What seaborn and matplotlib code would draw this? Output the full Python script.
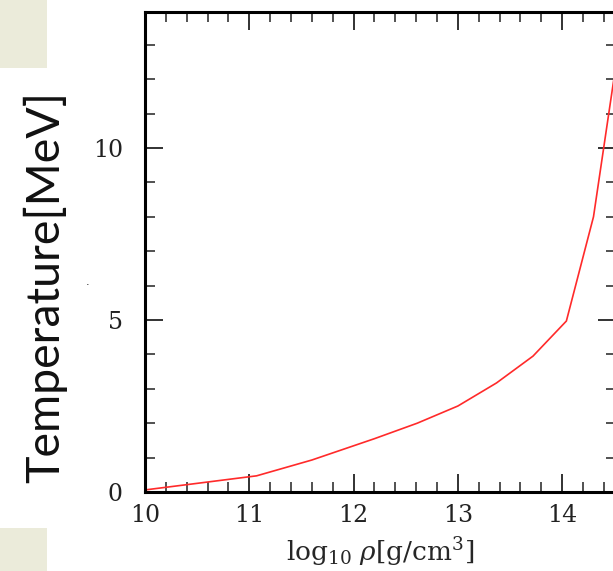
import numpy as np
import pandas as pd
import matplotlib
matplotlib.use("Agg")
import matplotlib.pyplot as plt
from matplotlib.ticker import MultipleLocator
from matplotlib.patches import Rectangle
import seaborn as sns

# data
log_rho = [10.0, 11.07, 11.6, 12.2, 12.61, 13.0, 13.37, 13.72, 14.04, 14.3, 14.5]
temperature = [0.06, 0.47, 0.93, 1.55, 2.0, 2.5, 3.17, 3.95, 4.97, 8.0, 12.1]
x_ticks = [10, 11, 12, 13, 14]
y_ticks = [0, 5, 10]

sns.set_style("ticks")
plt.rcParams['mathtext.fontset'] = 'dejavuserif'

df = pd.DataFrame({"log_rho": log_rho, "T": temperature})

fig = plt.figure(figsize=(6.13, 5.71), dpi=100)
# light background patches on the left
fig.patches.append(Rectangle((0, 1 - 68/571), 47/613, 68/571, transform=fig.transFigure,
                             facecolor="#ebebda", edgecolor="none", zorder=0))
fig.patches.append(Rectangle((0, 0), 47/613, 43/571, transform=fig.transFigure,
                             facecolor="#ebebda", edgecolor="none", zorder=0))

ax = fig.add_axes([145/613, 79/571, 471/613, 480/571])
ax.patch.set_alpha(0)
sns.lineplot(data=df, x="log_rho", y="T", ax=ax, color="#ff2a2a", linewidth=1.2)

ax.set_xlim(10, 10 + 471/104.3)
ax.set_ylim(0, 480/34.4)
ax.set_xticks(x_ticks)
ax.set_yticks(y_ticks)
ax.xaxis.set_minor_locator(MultipleLocator(0.2))
ax.yaxis.set_minor_locator(MultipleLocator(1))
ax.tick_params(which="both", direction="in", top=True, right=True, colors="#222222")
ax.tick_params(which="major", length=13, width=1.3)
ax.tick_params(axis="x", which="major", pad=9)
ax.tick_params(axis="y", which="major", pad=16)
ax.tick_params(which="minor", length=7, width=1.1)
for s in ax.spines.values():
    s.set_linewidth(2.2)
    s.set_color("black")

ax.set_xticklabels([str(t) for t in x_ticks], family="DejaVu Serif", fontsize=17)
ax.set_yticklabels([str(t) for t in y_ticks], family="DejaVu Serif", fontsize=17)

ax.set_xlabel(r"$\log_{10}\,\rho[\mathrm{g/cm^3}]$", fontsize=19, labelpad=6)
ax.set_ylabel("")
fig.text(45/613, 1 - 287/571, "Temperature[MeV]", rotation=90, ha="center", va="center",
         family=["Lato", "DejaVu Sans"], fontsize=33.5, color="#111111")
fig.text(88/613, 1 - 282/571, ".", ha="center", va="center", fontsize=8, color="#111111")

fig.savefig("out.png", dpi=100)
